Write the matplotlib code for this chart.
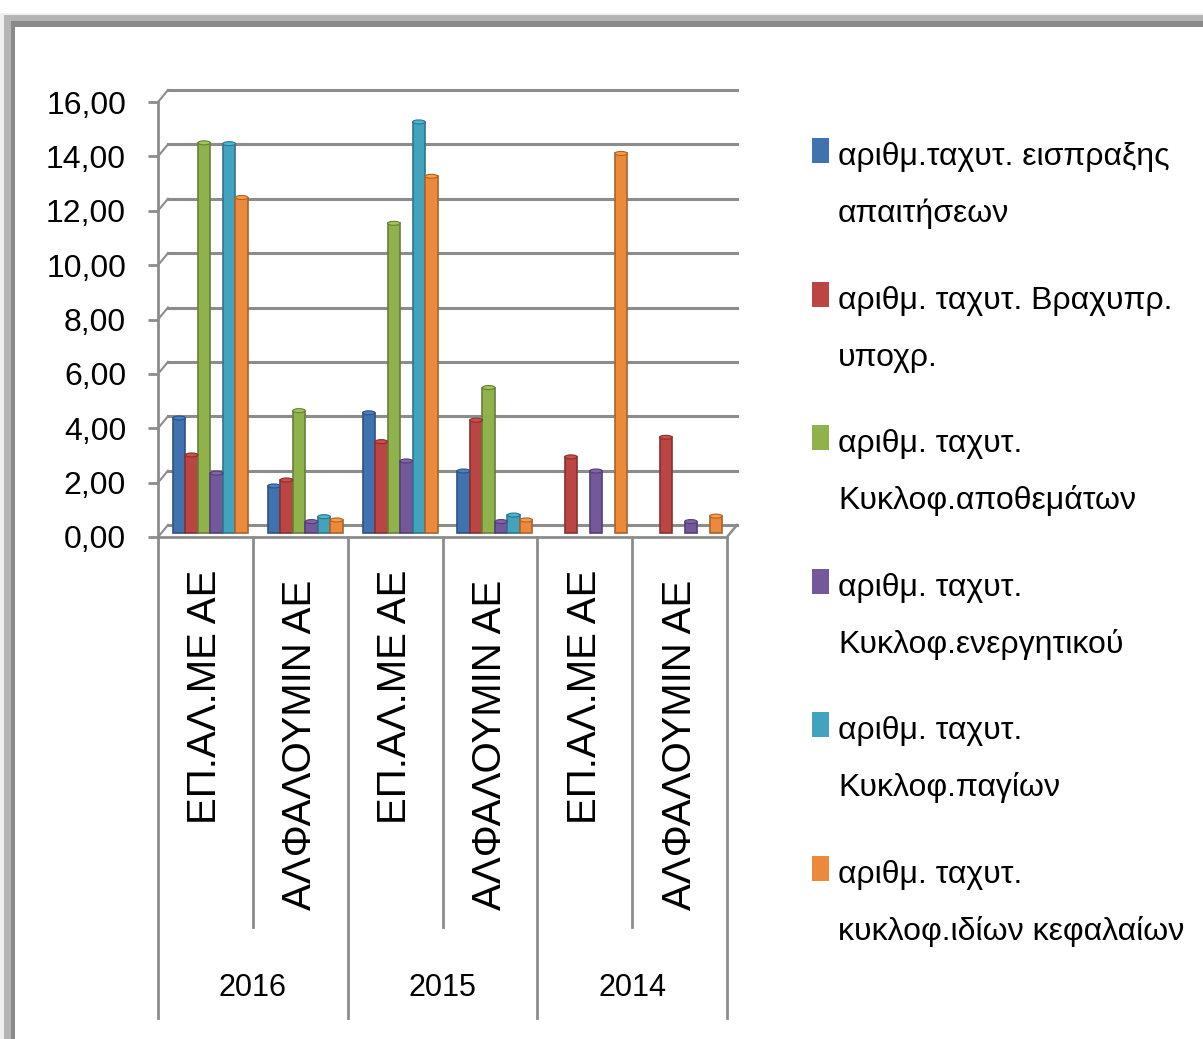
import numpy as np
import matplotlib
matplotlib.use('Agg')
import matplotlib.pyplot as plt
from matplotlib.patches import Rectangle, Ellipse
from matplotlib.transforms import ScaledTranslation, blended_transform_factory

# data (nan = no bar shown)
years = ['2016', '2015', '2014']
companies = ['ΕΠ.ΑΛ.ΜΕ ΑΕ', 'ΑΛΦΑΛΟΥΜΙΝ ΑΕ']
series_names = ['αριθμ.ταχυτ. εισπραξης\nαπαιτήσεων',
                'αριθμ. ταχυτ. Βραχυπρ.\nυποχρ.',
                'αριθμ. ταχυτ.\nΚυκλοφ.αποθεμάτων',
                'αριθμ. ταχυτ.\nΚυκλοφ.ενεργητικού',
                'αριθμ. ταχυτ.\nΚυκλοφ.παγίων',
                'αριθμ. ταχυτ.\nκυκλοφ.ιδίων κεφαλαίων']
receivables = [4.23, 1.73, 4.42, 2.28, np.nan, np.nan]
short_liab = [2.87, 1.95, 3.36, 4.15, 2.80, 3.52]
inventory = [14.35, 4.50, 11.39, 5.35, np.nan, np.nan]
current_assets = [2.20, 0.42, 2.65, 0.42, 2.28, 0.42]
fixed_assets = [14.32, 0.60, 15.12, 0.66, np.nan, np.nan]
equity = [12.34, 0.48, 13.12, 0.48, 13.96, 0.62]
series = [receivables, short_liab, inventory, current_assets, fixed_assets, equity]
colors = ['#4172b0', '#ba4542', '#8fb24c', '#74589c', '#42a3bf', '#ec8a3c']
yticks = np.arange(0, 17, 2)

W, H = 1203, 1039
FONT = ['Liberation Sans', 'DejaVu Sans']
GRID = '#8c8c8c'

fig = plt.figure(figsize=(W / 100, H / 100), dpi=100)

# window frame of the screenshot
for x0, y0, c in [(0, 13, '#f0f0f0'), (4, 15, '#b4b4b4'), (11, 21, '#8a8a8a'), (15, 27, 'white')]:
    fig.patches.append(Rectangle((x0 / W, 0), 1, 1 - y0 / H, transform=fig.transFigure,
                                 facecolor=c, edgecolor='none', zorder=-10))

L, R, T, B = 158, 727, 102, 537
ax = fig.add_axes([L / W, 1 - B / H, (R - L) / W, (B - T) / H])
ax.set_xlim(0, 6)
ax.set_ylim(0, 16)
ax.patch.set_visible(False)
ppx = (R - L) / 6
ppy = (B - T) / 16
ddx, ddy = 10 / ppx, 12 / ppy   # depth of the 3d box in data units

# back wall grid + connectors
for v in yticks:
    ax.plot([ddx, 6 + ddx], [v + ddy, v + ddy], color=GRID, lw=2.2, clip_on=False, zorder=1)
    ax.plot([0, ddx], [v, v + ddy], color=GRID, lw=1.5, clip_on=False, zorder=1)
ax.plot([6, 6 + ddx], [0, ddy], color=GRID, lw=1.8, clip_on=False, zorder=1)

# bars
n = len(series)
bw = 0.132
x = np.arange(6) + 0.5
shift = ax.transData + ScaledTranslation(0.05, 0.04, fig.dpi_scale_trans)
for j, (vals, c) in enumerate(zip(series, colors)):
    xs = x + (j - (n - 1) / 2) * bw
    dark = tuple(np.array(matplotlib.colors.to_rgb(c)) * 0.72)
    light = tuple(np.minimum(np.array(matplotlib.colors.to_rgb(c)) * 1.12, 1))
    ax.bar(xs, vals, bw, color=c, edgecolor=dark, linewidth=1.2, transform=shift,
           clip_on=False, zorder=3)
    for xi, v in zip(xs, vals):
        if np.isnan(v):
            continue
        ax.add_patch(Ellipse((xi, v), bw, 4 / ppy, facecolor=light, edgecolor=dark, lw=0.8,
                             transform=shift, clip_on=False, zorder=4))

# axes styling
for s in ['top', 'right']:
    ax.spines[s].set_visible(False)
for s in ['left', 'bottom']:
    ax.spines[s].set_color(GRID)
    ax.spines[s].set_linewidth(2)
ax.set_yticks(yticks)
ax.set_yticklabels([f'{v:.2f}'.replace('.', ',') for v in yticks], family=FONT, fontsize=23)
ax.tick_params(axis='y', length=7, width=2, color=GRID, pad=16)
ax.set_xticks([])

# category axis below the floor
bt = blended_transform_factory(ax.transData, fig.dpi_scale_trans)
for k in range(7):
    low = 1018 if k % 2 == 0 else 927
    ax.plot([k, k], [(H - B) / 100, (H - low) / 100], color=GRID, lw=2, transform=bt,
            clip_on=False)
for i in range(6):
    top = 570 if i % 2 == 0 else 580
    ax.text(i + 0.5, (H - top) / 100, companies[i % 2], transform=bt, rotation=90,
            ha='center', va='top', fontsize=29, family=FONT)
for i, yr in enumerate(years):
    ax.text(2 * i + 1, (H - 988) / 100, yr, transform=bt, ha='center', va='center',
            fontsize=22, family=FONT)

# legend, drawn by hand so the swatch sits on the first line
for k, (name, c) in enumerate(zip(series_names, colors)):
    base = 165 + k * 143.6
    fig.patches.append(Rectangle((812 / W, 1 - (base - 2) / H), 17 / W, 25 / H,
                                 transform=fig.transFigure, facecolor=c, edgecolor='none'))
    for m, line in enumerate(name.split('\n')):
        fig.text(838 / W, 1 - (base + 57 * m) / H, line, ha='left', va='baseline',
                 fontsize=23, family=FONT)

fig.savefig('out.png', dpi=100)
